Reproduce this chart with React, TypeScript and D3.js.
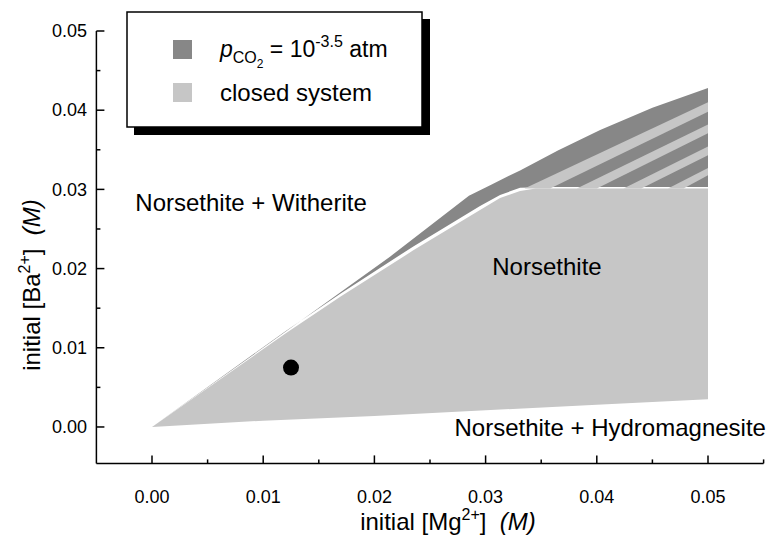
import { useEffect, useRef } from 'react';
import * as d3 from 'd3';

// axis ticks
const xMajor = [0, 0.01, 0.02, 0.03, 0.04, 0.05];
const xMinor = [0.005, 0.015, 0.025, 0.035, 0.045, 0.055];
const yMajor = [0, 0.01, 0.02, 0.03, 0.04, 0.05];
const yMinor = [0.005, 0.015, 0.025, 0.035, 0.045];

// closed system field (light)
const closedLower = [[0, 0], [0.01, 0.0008], [0.02, 0.0014], [0.03, 0.0021], [0.04, 0.0028], [0.05, 0.0035]];
const closedUpper = [[0, 0], [0.012, 0.0118], [0.017, 0.0165], [0.0235, 0.0223], [0.0295, 0.0274], [0.0313, 0.0289], [0.0331, 0.0298], [0.0345, 0.0301], [0.05, 0.0301]];

// pCO2 = 10^-3.5 field (dark)
const openUpper = [[0, 0], [0.011, 0.011], [0.0214, 0.0215], [0.0285, 0.0292], [0.0305, 0.0306], [0.0331, 0.0324], [0.0365, 0.0349], [0.0403, 0.0375], [0.045, 0.0403], [0.05, 0.0428]];
const openLower = [[0, 0], [0.012, 0.0121], [0.017, 0.0169], [0.0235, 0.0228], [0.0295, 0.0279], [0.0313, 0.0293], [0.0331, 0.0302], [0.036, 0.0303], [0.05, 0.0303]];

// light bands crossing the dark field
const bands = [
  [[0.0335, 0.0301], [0.0358, 0.0301], [0.05, 0.0398], [0.05, 0.041]],
  [[0.0382, 0.0301], [0.04, 0.0301], [0.05, 0.0371], [0.05, 0.0382]],
  [[0.0424, 0.0301], [0.044, 0.0301], [0.05, 0.0343], [0.05, 0.0354]],
  [[0.0464, 0.0301], [0.0478, 0.0301], [0.05, 0.0318], [0.05, 0.0327]],
];

const point = [0.0125, 0.0075];

const fieldLabels = [
  { text: 'Norsethite + Witherite', x: -0.0015, y: 0.0273 },
  { text: 'Norsethite', x: 0.0306, y: 0.0192 },
  { text: 'Norsethite + Hydromagnesite', x: 0.0272, y: -0.0012 },
];

const DARK = '#878787';
const LIGHT = '#c6c6c6';
const FONT = '"Liberation Sans", Arial, Helvetica, sans-serif';

function App() {
  const svgRef = useRef<SVGSVGElement>(null);

  useEffect(() => {
    if (!svgRef.current) return;
    const svg = d3.select(svgRef.current);
    svg.selectAll('*').remove();

    const x = d3.scaleLinear().domain([-0.005, 0.055]).range([96.4, 763.6]);
    const y = d3.scaleLinear().domain([-0.0046, 0.05]).range([463.4, 31]);

    const line = d3.line<number[]>().x(d => x(d[0])).y(d => y(d[1]));
    const area = (top: number[][], bottom: number[][]) =>
      line([...top, ...bottom.slice().reverse()]) + 'Z';

    const g = svg.append('g');

    // dark field, then light field on top, then light bands
    g.append('path').attr('d', area(openUpper, openLower)).attr('fill', DARK);
    g.append('path').attr('d', area(closedUpper, closedLower)).attr('fill', LIGHT);
    bands.forEach(b => {
      g.append('path').attr('d', line(b) + 'Z').attr('fill', LIGHT);
    });

    // data point
    g.append('circle')
      .attr('cx', x(point[0]))
      .attr('cy', y(point[1]))
      .attr('r', 8)
      .attr('fill', '#000');

    // axes
    const ax = svg.append('g').attr('stroke', '#000').attr('stroke-width', 1.5);
    ax.append('line')
      .attr('x1', x(-0.005)).attr('x2', x(-0.005))
      .attr('y1', y(0.05)).attr('y2', y(-0.0046));
    ax.append('line')
      .attr('x1', x(-0.005)).attr('x2', x(0.055))
      .attr('y1', y(-0.0046)).attr('y2', y(-0.0046));

    xMajor.forEach(v => {
      ax.append('line').attr('x1', x(v)).attr('x2', x(v))
        .attr('y1', y(-0.0046)).attr('y2', y(-0.0046) - 8);
    });
    xMinor.forEach(v => {
      ax.append('line').attr('x1', x(v)).attr('x2', x(v))
        .attr('y1', y(-0.0046)).attr('y2', y(-0.0046) - 4);
    });
    yMajor.forEach(v => {
      ax.append('line').attr('x1', x(-0.005)).attr('x2', x(-0.005) + 8)
        .attr('y1', y(v)).attr('y2', y(v));
    });
    yMinor.forEach(v => {
      ax.append('line').attr('x1', x(-0.005)).attr('x2', x(-0.005) + 4)
        .attr('y1', y(v)).attr('y2', y(v));
    });

    const fmt = d3.format('.2f');
    const tl = svg.append('g').attr('font-family', FONT).attr('font-size', 18).attr('fill', '#000');
    xMajor.forEach(v => {
      tl.append('text').attr('x', x(v)).attr('y', 503)
        .attr('text-anchor', 'middle').text(fmt(v));
    });
    yMajor.forEach(v => {
      tl.append('text').attr('x', 87).attr('y', y(v)).attr('dy', '0.35em')
        .attr('text-anchor', 'end').text(fmt(v));
    });

    // axis titles
    const xt = svg.append('text')
      .attr('font-family', FONT).attr('font-size', 24)
      .attr('x', 448).attr('y', 530).attr('text-anchor', 'middle');
    xt.append('tspan').text('initial [Mg');
    xt.append('tspan').attr('font-size', 16).attr('dy', -10).text('2+');
    xt.append('tspan').attr('dy', 10).text(']\u00a0\u00a0');
    xt.append('tspan').attr('font-style', 'italic').text('(M)');

    const yt = svg.append('text')
      .attr('font-family', FONT).attr('font-size', 24)
      .attr('transform', `translate(40,285) rotate(-90)`)
      .attr('text-anchor', 'middle');
    yt.append('tspan').text('initial [Ba');
    yt.append('tspan').attr('font-size', 16).attr('dy', -10).text('2+');
    yt.append('tspan').attr('dy', 10).text(']\u00a0\u00a0');
    yt.append('tspan').attr('font-style', 'italic').text('(M)');

    // field labels
    fieldLabels.forEach(l => {
      svg.append('text')
        .attr('font-family', FONT).attr('font-size', 24)
        .attr('x', x(l.x)).attr('y', y(l.y))
        .text(l.text);
    });

    // legend
    const lg = svg.append('g');
    lg.append('rect').attr('x', 134).attr('y', 19).attr('width', 296).attr('height', 116).attr('fill', '#000');
    lg.append('rect').attr('x', 127).attr('y', 12).attr('width', 295).attr('height', 115)
      .attr('fill', '#fff').attr('stroke', '#000').attr('stroke-width', 1.5);
    lg.append('rect').attr('x', 173).attr('y', 40).attr('width', 19).attr('height', 19).attr('fill', DARK);
    lg.append('rect').attr('x', 173).attr('y', 83).attr('width', 19).attr('height', 19).attr('fill', LIGHT);

    const t1 = lg.append('text').attr('font-family', FONT).attr('font-size', 23).attr('x', 220).attr('y', 57);
    t1.append('tspan').attr('font-style', 'italic').text('p');
    t1.append('tspan').attr('font-size', 16).attr('dy', 6).text('CO');
    t1.append('tspan').attr('font-size', 12).attr('dy', 5).text('2');
    t1.append('tspan').attr('dy', -11).text(' = 10');
    t1.append('tspan').attr('font-size', 16).attr('dy', -10).text('-3.5');
    t1.append('tspan').attr('dy', 10).text(' atm');

    lg.append('text').attr('font-family', FONT).attr('font-size', 24)
      .attr('x', 220).attr('y', 101).text('closed system');
  }, []);

  return (
    <svg ref={svgRef} width={768} height={535}
      style={{ position: 'absolute', left: 0, top: 0, background: '#fff' }} />
  );
}

export default App;
